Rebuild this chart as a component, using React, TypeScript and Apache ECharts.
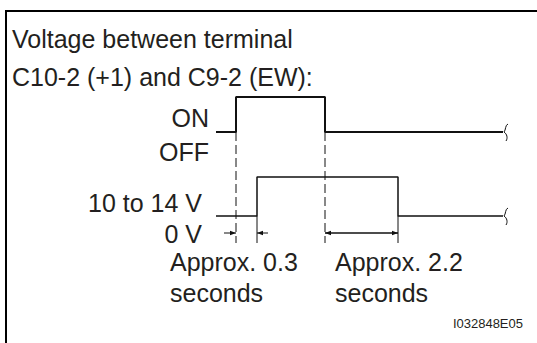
import React, { useEffect, useRef } from "react";
import * as echarts from "echarts";

// ---- texts ----
const titleLines = ["Voltage between terminal", "C10-2 (+1) and C9-2 (EW):"];
const switchLevelLabels = ["ON", "OFF"];
const voltageLevelLabels = ["10 to 14 V", "0 V"];
const durationLabels = [
  ["Approx. 0.3", "seconds"],
  ["Approx. 2.2", "seconds"],
];
const figureId = "I032848E05";

// ---- signals (schematic time units, not to scale) ----
const switchTimes = [0, 2, 10.9, 28.7];
const switchLevels = [0, 1, 0, 0];
const voltageTimes = [0, 4.1, 18.2, 28.7];
const voltageLevels = [0, 1, 0, 0];
const timeMax = 28.7;

const FONT = '"Liberation Sans", Arial, Helvetica, sans-serif';
const TEXT = "#231f20";
const INK = "#111111";

echarts.graphic.registerShape(
  "breakMark",
  echarts.graphic.extendPath("M3,-8 C0,-7 1,-2 -1,0 C2,2 3,6 1,9", {})
);

function txt(text: string, x: number, y: number, size: number, align: string) {
  return {
    type: "text",
    x,
    y,
    silent: true,
    style: {
      text,
      font: `${size}px ${FONT}`,
      fill: TEXT,
      align,
      textAlign: align,
      verticalAlign: "middle",
      textVerticalAlign: "middle",
    },
  };
}

function seg(x1: number, y1: number, x2: number, y2: number, w: number, dash?: number[]) {
  return {
    type: "line",
    silent: true,
    shape: { x1, y1, x2, y2 },
    style: { stroke: INK, lineWidth: w, lineDash: dash },
  };
}

function head(tipX: number, y: number, dir: number) {
  return {
    type: "polygon",
    silent: true,
    shape: {
      points: [
        [tipX, y],
        [tipX - dir * 6, y - 2.2],
        [tipX - dir * 6, y + 2.2],
      ],
    },
    style: { fill: INK },
  };
}

export default function App() {
  const ref = useRef<HTMLDivElement>(null);

  useEffect(() => {
    document.body.style.margin = "0";
    const chart = echarts.init(ref.current!, null, { renderer: "svg" });
    const xAxisBase = { type: "value", min: 0, max: timeMax, show: false };
    const yAxisBase = { type: "value", min: 0, max: 1, show: false };
    chart.setOption({
      animation: false,
      grid: [
        { left: 216, right: 34, top: 97, height: 35 },
        { left: 216, right: 34, top: 177, height: 39 },
      ],
      xAxis: [
        { ...xAxisBase, gridIndex: 0 },
        { ...xAxisBase, gridIndex: 1 },
      ],
      yAxis: [
        { ...yAxisBase, gridIndex: 0 },
        { ...yAxisBase, gridIndex: 1 },
      ],
      series: [
        {
          type: "line",
          xAxisIndex: 0,
          yAxisIndex: 0,
          step: "end",
          symbol: "none",
          clip: false,
          data: switchTimes.map((t, i) => [t, switchLevels[i]]),
          lineStyle: { color: INK, width: 2 },
        },
        {
          type: "line",
          xAxisIndex: 1,
          yAxisIndex: 1,
          step: "end",
          symbol: "none",
          clip: false,
          data: voltageTimes.map((t, i) => [t, voltageLevels[i]]),
          lineStyle: { color: INK, width: 1.5 },
        },
      ],
    });

    const sw = (t: number, v: number) => chart.convertToPixel({ gridIndex: 0 }, [t, v]) as number[];
    const vt = (t: number, v: number) => chart.convertToPixel({ gridIndex: 1 }, [t, v]) as number[];

    const swOn = sw(switchTimes[1], 0);
    const swOff = sw(switchTimes[2], 0);
    const vOn = vt(voltageTimes[1], 0);
    const vOff = vt(voltageTimes[2], 0);
    const swEnd = sw(switchTimes[3], 0);
    const vEnd = vt(voltageTimes[3], 0);
    const swHigh = sw(0, 1)[1];
    const swLow = swOn[1];
    const vLow = vOn[1];
    const dimBottom = vLow + 27;
    const arrowY = vLow + 17;

    const graphics: any[] = [
      {
        type: "rect",
        silent: true,
        shape: { x: 6, y: 11, width: 600, height: 400 },
        style: { fill: "none", stroke: "#000", lineWidth: 2 },
      },
      txt(titleLines[0], 12, 39, 25, "left"),
      txt(titleLines[1], 12, 77, 25, "left"),
      txt(switchLevelLabels[0], 209, (swHigh + swLow) / 2 + 3, 25, "right"),
      txt(switchLevelLabels[1], 209, swLow + 20, 25, "right"),
      txt(voltageLevelLabels[0], 202, vLow - 13, 25, "right"),
      txt(voltageLevelLabels[1], 202, vLow + 18, 25, "right"),
      // dashed extension lines from switch edges
      seg(swOn[0], swLow, swOn[0], dimBottom, 1, [9, 4]),
      seg(swOff[0], swLow, swOff[0], dimBottom, 1, [9, 4]),
      // extension lines from voltage edges
      seg(vOn[0], vLow, vOn[0], dimBottom, 1),
      seg(vOff[0], vLow, vOff[0], dimBottom, 1),
      // 0.3 s dimension (arrows from outside)
      seg(swOn[0] - 12, arrowY, swOn[0], arrowY, 1),
      head(swOn[0], arrowY, 1),
      seg(vOn[0] + 11, arrowY, vOn[0], arrowY, 1),
      head(vOn[0], arrowY, -1),
      // 2.2 s dimension
      seg(swOff[0], arrowY, vOff[0], arrowY, 1.5),
      head(swOff[0], arrowY, -1),
      head(vOff[0], arrowY, 1),
      // duration labels
      txt(durationLabels[0][0], 170, 262, 25, "left"),
      txt(durationLabels[0][1], 170, 293, 25, "left"),
      txt(durationLabels[1][0], swOff[0] + 10, 262, 25, "left"),
      txt(durationLabels[1][1], swOff[0] + 10, 293, 25, "left"),
      txt(figureId, 523, 323, 13, "right"),
      // break marks
      {
        type: "breakMark",
        x: swEnd[0] + 2,
        y: swEnd[1],
        silent: true,
        style: { fill: "none", stroke: INK, lineWidth: 1 },
      },
      {
        type: "breakMark",
        x: vEnd[0] + 2,
        y: vEnd[1],
        silent: true,
        style: { fill: "none", stroke: INK, lineWidth: 1 },
      },
    ];
    chart.setOption({ graphic: graphics });

    return () => chart.dispose();
  }, []);

  return <div ref={ref} style={{ width: 537, height: 343 }} />;
}
